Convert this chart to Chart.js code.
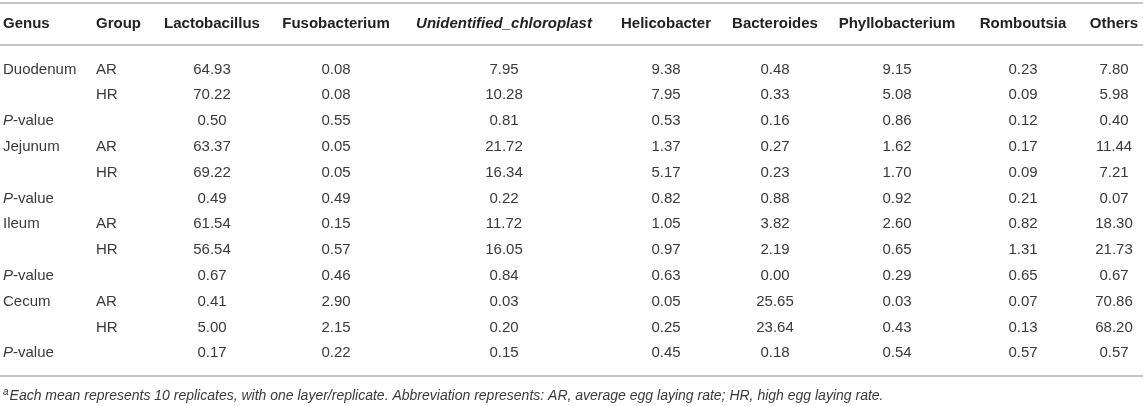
<!DOCTYPE html>
<html>
<head>
<meta charset="utf-8">
<script src="https://cdn.jsdelivr.net/npm/chart.js@4"></script>
<style>
  html, body { margin: 0; padding: 0; background: #fff; }
  #wrap { width: 1143px; height: 406px; }
</style>
</head>
<body>
<div id="wrap"><canvas id="tableChart" width="1143" height="406"></canvas></div>
<script>
// table content
const headers = ["Genus", "Group", "Lactobacillus", "Fusobacterium", "Unidentified_chloroplast",
  "Helicobacter", "Bacteroides", "Phyllobacterium", "Romboutsia", "Others"];
const genus = ["Duodenum", "", "P-value", "Jejunum", "", "P-value", "Ileum", "", "P-value", "Cecum", "", "P-value"];
const group = ["AR", "HR", "", "AR", "HR", "", "AR", "HR", "", "AR", "HR", ""];

const lactobacillus = [64.93, 70.22, 0.50, 63.37, 69.22, 0.49, 61.54, 56.54, 0.67, 0.41, 5.00, 0.17];
const fusobacterium = [0.08, 0.08, 0.55, 0.05, 0.05, 0.49, 0.15, 0.57, 0.46, 2.90, 2.15, 0.22];
const unidentifiedChloroplast = [7.95, 10.28, 0.81, 21.72, 16.34, 0.22, 11.72, 16.05, 0.84, 0.03, 0.20, 0.15];
const helicobacter = [9.38, 7.95, 0.53, 1.37, 5.17, 0.82, 1.05, 0.97, 0.63, 0.05, 0.25, 0.45];
const bacteroides = [0.48, 0.33, 0.16, 0.27, 0.23, 0.88, 3.82, 2.19, 0.00, 25.65, 23.64, 0.18];
const phyllobacterium = [9.15, 5.08, 0.86, 1.62, 1.70, 0.92, 2.60, 0.65, 0.29, 0.03, 0.43, 0.54];
const romboutsia = [0.23, 0.09, 0.12, 0.17, 0.09, 0.21, 0.82, 1.31, 0.65, 0.07, 0.13, 0.57];
const others = [7.80, 5.98, 0.40, 11.44, 7.21, 0.07, 18.30, 21.73, 0.67, 70.86, 68.20, 0.57];

const footnote = "Each mean represents 10 replicates, with one layer/replicate. Abbreviation represents: AR, average egg laying rate; HR, high egg laying rate.";

// layout (x in table units, y in row units)
const colPos = [3, 96, 212, 336, 504, 666, 775, 897, 1023, 1114];
const headerRow = -1.76;
const ruleRows = [-2.58, -0.95, 11.88];
const footRow = 12.66;

const FONT = "'Liberation Sans', Arial, sans-serif";
const BODY = 15;
const textColumns = [genus, group];
const numColumns = [lactobacillus, fusobacterium, unidentifiedChloroplast, helicobacter,
  bacteroides, phyllobacterium, romboutsia, others];

const datasets = [];
textColumns.forEach((col, j) => {
  datasets.push({
    label: headers[j],
    cells: col,
    cellAlign: "left",
    data: col.map((v, i) => ({ x: colPos[j], y: i })),
    pointRadius: 0
  });
});
numColumns.forEach((col, j) => {
  datasets.push({
    label: headers[j + 2],
    cells: col.map(v => v.toFixed(2)),
    cellAlign: "center",
    data: col.map((v, i) => ({ x: colPos[j + 2], y: i })),
    pointRadius: 0
  });
});

function drawCell(ctx, txt, x, y, align) {
  ctx.font = BODY + "px " + FONT;
  ctx.fillStyle = "#3a3a3a";
  ctx.textBaseline = "middle";
  if (txt === "P-value") {
    ctx.textAlign = "left";
    ctx.font = "italic " + BODY + "px " + FONT;
    ctx.fillText("P", x, y);
    const w = ctx.measureText("P").width;
    ctx.font = BODY + "px " + FONT;
    ctx.fillText("-value", x + w, y);
    return;
  }
  ctx.textAlign = align;
  ctx.fillText(txt, x, y);
}

const tablePlugin = {
  id: "tableText",
  afterDatasetsDraw(chart) {
    const { ctx, chartArea, scales: { x, y } } = chart;
    ctx.save();
    // horizontal rules
    ctx.strokeStyle = "#c4c4c4";
    ctx.lineWidth = 2;
    ruleRows.forEach(r => {
      const py = Math.round(y.getPixelForValue(r));
      ctx.beginPath();
      ctx.moveTo(chartArea.left, py);
      ctx.lineTo(chartArea.right, py);
      ctx.stroke();
    });
    // header row
    const hy = y.getPixelForValue(headerRow);
    ctx.textBaseline = "middle";
    ctx.fillStyle = "#222";
    headers.forEach((h, j) => {
      const italic = h === "Unidentified_chloroplast" ? "italic " : "";
      ctx.font = italic + "bold " + BODY + "px " + FONT;
      ctx.textAlign = j < 2 ? "left" : "center";
      ctx.fillText(h, x.getPixelForValue(colPos[j]), hy);
    });
    // body cells, placed at each dataset point
    chart.data.datasets.forEach((ds, di) => {
      const meta = chart.getDatasetMeta(di);
      meta.data.forEach((pt, i) => {
        const txt = ds.cells[i];
        if (txt) drawCell(ctx, txt, pt.x, pt.y, ds.cellAlign);
      });
    });
    // footnote
    const fy = y.getPixelForValue(footRow);
    const fx = x.getPixelForValue(colPos[0]);
    ctx.fillStyle = "#3a3a3a";
    ctx.textAlign = "left";
    ctx.font = "italic 10px " + FONT;
    ctx.fillText("a", fx, fy - 4);
    const aw = ctx.measureText("a").width;
    ctx.font = "italic 14px " + FONT;
    ctx.fillText(footnote, fx + aw + 1, fy);
    ctx.restore();
  }
};

new Chart(document.getElementById("tableChart").getContext("2d"), {
  type: "scatter",
  data: { datasets: datasets },
  options: {
    responsive: false,
    animation: false,
    layout: { padding: 0 },
    plugins: { legend: { display: false }, tooltip: { enabled: false } },
    scales: {
      x: { type: "linear", display: false, min: 0, max: 1143 },
      y: { type: "linear", display: false, reverse: true, min: -2.694, max: 13.042 }
    }
  },
  plugins: [tablePlugin]
});
</script>
</body>
</html>
